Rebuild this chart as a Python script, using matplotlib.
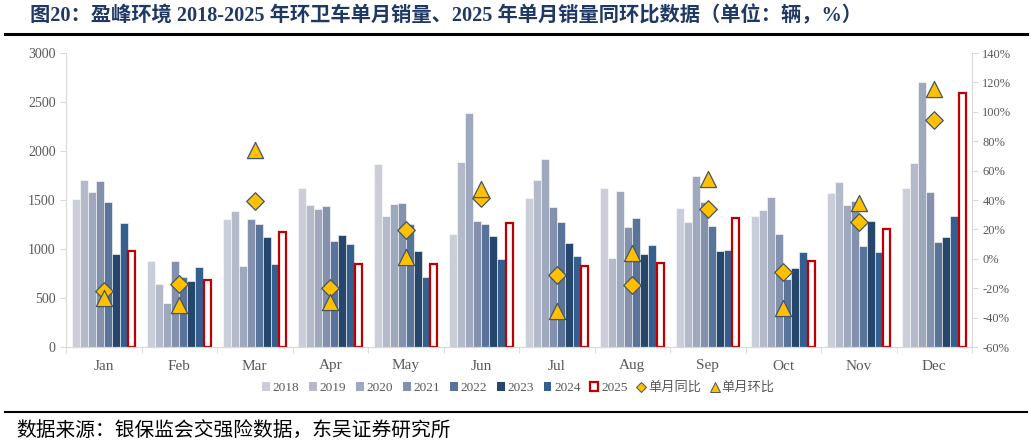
import matplotlib
matplotlib.use("Agg")
import matplotlib.pyplot as plt
import numpy as np
from matplotlib.lines import Line2D
from matplotlib.patches import Patch

months = ["Jan", "Feb", "Mar", "Apr", "May", "Jun", "Jul", "Aug", "Sep", "Oct", "Nov", "Dec"]
years = ["2018", "2019", "2020", "2021", "2022", "2023", "2024", "2025"]

s2018 = [1513, 881, 1303, 1619, 1871, 1153, 1520, 1622, 1415, 1340, 1571, 1626]
s2019 = [1701, 640, 1385, 1449, 1337, 1891, 1701, 905, 1276, 1395, 1684, 1881]
s2020 = [1582, 446, 827, 1408, 1459, 2384, 1922, 1589, 1748, 1527, 1449, 2701]
s2021 = [1694, 878, 1303, 1439, 1473, 1286, 1432, 1224, 1476, 1157, 1493, 1582]
s2022 = [1483, 714, 1252, 1085, 1255, 1255, 1272, 1313, 1235, 697, 1034, 1075]
s2023 = [949, 677, 1122, 1146, 976, 1136, 1065, 946, 983, 803, 1282, 1126]
s2024 = [1265, 816, 847, 1051, 714, 895, 925, 1041, 986, 966, 966, 1337]
s2025 = [983, 680, 1177, 844, 850, 1262, 827, 857, 1320, 881, 1207, 2595]

yoy = [-21.7, -17.4, 39.3, -20.0, 19.4, 41.6, -11.0, -17.8, 34.1, -9.2, 25.0, 94.4]
mom = [-26.9, -31.4, 74.0, -29.2, 1.0, 47.3, -35.3, 3.7, 54.0, -33.7, 37.8, 115.3]

title = "图20：盈峰环境 2018-2025 年环卫车单月销量、2025 年单月销量同环比数据（单位：辆，%）"
source = "数据来源：银保监会交强险数据，东吴证券研究所"

colors = ["#C9CED9", "#B5BACB", "#9FA9BD", "#8391AC", "#5A7499", "#27466B", "#355F8F"]

plt.rcParams['font.family'] = ['Liberation Serif', 'Noto Sans CJK SC', 'DejaVu Sans']

fig = plt.figure(figsize=(10.32, 4.43), dpi=100)
ax = fig.add_axes([66/1032, 1-347/443, (972-66)/1032, (347-53)/443])
ax2 = ax.twinx()

series = [s2018, s2019, s2020, s2021, s2022, s2023, s2024]
x = np.arange(len(months))
bw = 0.106
offsets = (np.arange(8) - 3.5) * bw
for i, s in enumerate(series):
    ax.bar(x + offsets[i], s, width=bw, color=colors[i], edgecolor="white", linewidth=0.4, zorder=2)
ax.bar(x + offsets[7], s2025, width=bw*0.85, color="white", edgecolor="#C00000", linewidth=1.6, zorder=3)

ax.set_xlim(-0.5, 11.5)
ax.set_ylim(0, 3000)
ax.set_yticks(np.arange(0, 3001, 500))
ax.set_xticks(x)
ax.set_xticklabels(months)
ax.set_xticks(np.arange(-0.5, 12, 1), minor=True)
ax.tick_params(axis='x', which='major', length=0, pad=9, labelsize=11, labelcolor="#595959")
ax.tick_params(axis='x', which='minor', length=4, color="#D9D9D9", direction='out')
ax.tick_params(axis='y', length=4, color="#D9D9D9", labelsize=10, labelcolor="#595959")

ax2.set_ylim(-60, 140)
ax2.set_yticks(np.arange(-60, 141, 20))
ax2.set_yticklabels([f"{v}%" for v in range(-60, 141, 20)])
ax2.tick_params(axis='y', length=4, color="#D9D9D9", labelsize=9, labelcolor="#595959")

ax2.scatter(x, yoy, marker="D", s=80, color="#FFC000", edgecolor="#44546A", linewidth=0.9, zorder=5)
ax2.scatter(x, mom, marker="^", s=135, color="#FFC000", edgecolor="#44546A", linewidth=0.9, zorder=5)

for a in (ax, ax2):
    a.spines['top'].set_visible(False)
    for sp in ('left', 'right', 'bottom'):
        a.spines[sp].set_color("#D9D9D9")
ax.spines['right'].set_visible(False)
ax2.spines['left'].set_visible(False)

handles = [Patch(facecolor=colors[i], edgecolor="none") for i in range(7)]
handles.append(Patch(facecolor="white", edgecolor="#C00000", linewidth=1.6))
handles.append(Line2D([], [], marker="D", linestyle="none", markersize=5, markerfacecolor="#FFC000", markeredgecolor="#44546A", markeredgewidth=0.7))
handles.append(Line2D([], [], marker="^", linestyle="none", markersize=7, markerfacecolor="#FFC000", markeredgecolor="#44546A", markeredgewidth=0.7))
labels = years + ["单月同比", "单月环比"]
leg = fig.legend(handles, labels, loc="center", bbox_to_anchor=(518/1032, 1-388/443), ncol=10,
                 frameon=False, fontsize=9.5, handlelength=0.6, handleheight=0.6, handletextpad=0.2,
                 columnspacing=0.75)
for t in leg.get_texts():
    t.set_color("#595959")

fig.text(30/1032, 1-16/443, title, fontsize=14.6, fontweight="bold", color="#1F3864",
         va="center", ha="left", family=['Liberation Serif', 'Noto Sans CJK SC'])
fig.add_artist(Line2D([5/1032, 1027/1032], [1-34/443, 1-34/443], color="black", linewidth=2.2))
fig.add_artist(Line2D([5/1032, 1027/1032], [1-412/443, 1-412/443], color="black", linewidth=1.5))
fig.text(16/1032, 1-431/443, source, fontsize=14.2, color="black", va="center", ha="left",
         family=['Noto Sans CJK SC', 'DejaVu Sans'])

fig.savefig("out.png", dpi=100)
